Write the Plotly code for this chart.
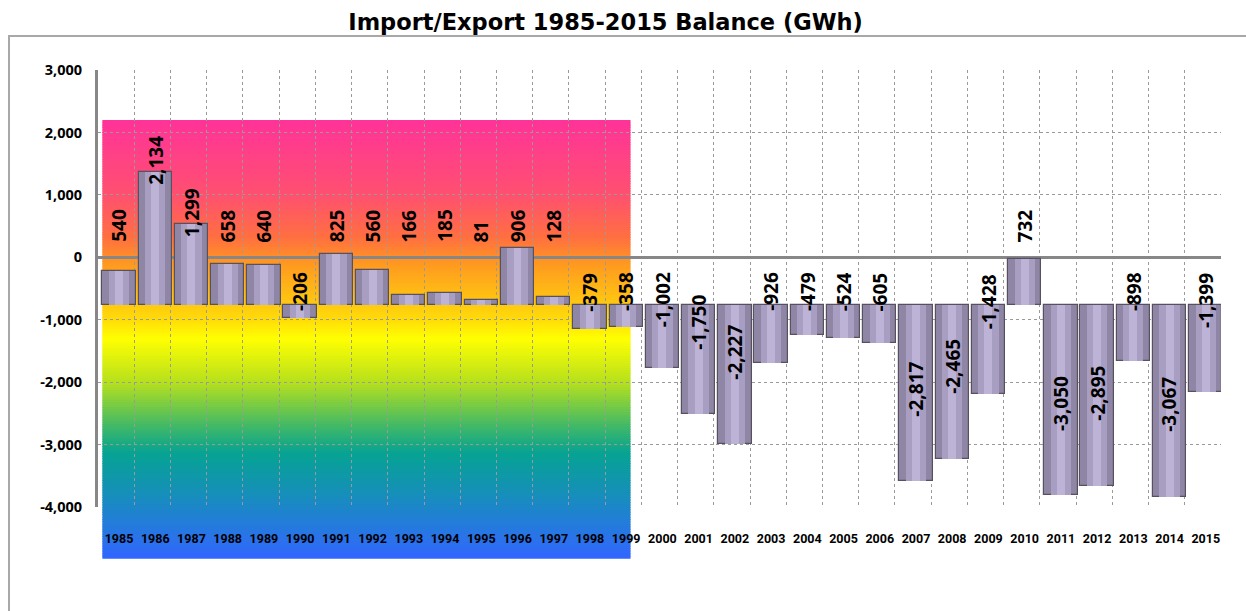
import plotly.graph_objects as go

# ---------------- data ----------------
years = list(range(1985, 2016))
year_labels = [str(y) for y in years]
balance = [540, 2134, 1299, 658, 640, -206, 825, 560, 166, 185, 81, 906, 128, -379, -358,
           -1002, -1750, -2227, -926, -479, -524, -605, -2817, -2465, -1428, 732,
           -3050, -2895, -898, -3067, -1399]
y_tick_vals = [-4000, -3000, -2000, -1000, 0, 1000, 2000, 3000]
y_tick_text = ["-4,000", "-3,000", "-2,000", "-1,000", "0", "1,000", "2,000", "3,000"]
title_text = "Import/Export 1985-2015 Balance (GWh)"

# ---------------- layout constants ----------------
W, H = 1246, 611
ML, MR, MT, MB = 98, 25, 70, 104
PW, PH = W - ML - MR, H - MT - MB
Y_MIN, Y_MAX = -4000, 3000
X_LO = 1984.42
X_HI = X_LO + len(years)
PX_PER_UNIT = PH / (Y_MAX - Y_MIN)
BASE_OFFSET = -765          # 3D-style depth offset of the bars

def px_x(p):   # pixel -> paper x
    return (p - ML) / PW

def px_y(p):   # pixel -> paper y
    return (H - MB - p) / PH

fig = go.Figure()

# bars (body + light centre stripe to mimic the bevel)
fig.add_trace(go.Bar(
    x=years, y=balance, base=BASE_OFFSET, width=0.92,
    marker=dict(color="#8f86a5", line=dict(color="#57505f", width=1.2)),
    hoverinfo="skip", showlegend=False))
fig.add_trace(go.Bar(
    x=years, y=balance, base=BASE_OFFSET, width=0.56,
    marker=dict(color="#a89ec2", line=dict(width=0)),
    hoverinfo="skip", showlegend=False))
fig.add_trace(go.Bar(
    x=years, y=balance, base=BASE_OFFSET, width=0.22,
    marker=dict(color="#bdb3d6", line=dict(width=0)),
    hoverinfo="skip", showlegend=False))
# invisible trace to activate the label axis
fig.add_trace(go.Scatter(x=years, y=balance, xaxis="x2", mode="markers",
                         marker=dict(opacity=0), hoverinfo="skip", showlegend=False))

# ---------------- gradient panel (1985-1999) ----------------
stops = [
    (0.00, (255, 51, 153)),
    (0.17, (255, 80, 112)),
    (0.27, (255, 112, 64)),
    (0.33, (255, 154, 32)),
    (0.45, (255, 216, 10)),
    (0.50, (255, 255, 0)),
    (0.60, (181, 224, 30)),
    (0.70, (64, 184, 104)),
    (0.76, (6, 163, 146)),
    (0.85, (21, 144, 184)),
    (1.00, (51, 102, 255)),
]

def interp(f):
    for (f0, c0), (f1, c1) in zip(stops[:-1], stops[1:]):
        if f0 <= f <= f1:
            t = (f - f0) / (f1 - f0) if f1 > f0 else 0
            return "rgb(%d,%d,%d)" % tuple(round(a + (b - a) * t) for a, b in zip(c0, c1))
    return "rgb(%d,%d,%d)" % stops[-1][1]

g_top = (2200 - Y_MIN) / (Y_MAX - Y_MIN)
g_bot = px_y(558)
g_x0 = (1984.54 - X_LO) / (X_HI - X_LO)
g_x1 = (1999.12 - X_LO) / (X_HI - X_LO)
N = 180
shapes = []
for i in range(N):
    f = (i + 0.5) / N
    y1 = g_top - (g_top - g_bot) * i / N
    y0 = g_top - (g_top - g_bot) * (i + 1) / N - 0.002
    shapes.append(dict(type="rect", xref="paper", yref="paper", x0=g_x0, x1=g_x1,
                       y0=y0, y1=y1, fillcolor=interp(f), line=dict(width=0),
                       layer="below"))
# outer chart frame
shapes.append(dict(type="rect", xref="paper", yref="paper",
                   x0=px_x(9), x1=px_x(W + 20), y0=px_y(H + 20), y1=px_y(36),
                   line=dict(color="#a8a8a8", width=2), fillcolor="rgba(0,0,0,0)",
                   layer="below"))

# ---------------- data labels ----------------
LABEL_SIZE = 19
CHAR_W = {",": 0.29, "-": 0.33}
annotations = []
for yr, v in zip(years, balance):
    txt = f"{v:,}"
    L = sum(CHAR_W.get(c, 0.572) for c in txt) * LABEL_SIZE + 2
    vpx = abs(v) * PX_PER_UNIT
    if v >= 0:
        if vpx - 10 - L >= 13:
            ya, anchor, shift = v, "top", -10
        else:
            ya, anchor, shift = 0, "bottom", 13
    else:
        if vpx - 15 - L >= 12:
            ya, anchor, shift = v, "bottom", 15
        else:
            ya, anchor, shift = 0, "top", -13
    annotations.append(dict(x=yr, y=ya, xref="x", yref="y", text=txt, showarrow=False,
                            textangle=-90, xanchor="center", yanchor=anchor, yshift=shift,
                            font=dict(family="Open Sans", size=LABEL_SIZE, color="black",
                                      weight="bold")))

fig.update_layout(
    width=W, height=H,
    margin=dict(l=ML, r=MR, t=MT, b=MB, pad=0),
    paper_bgcolor="white", plot_bgcolor="rgba(0,0,0,0)",
    barmode="overlay", bargap=0,
    showlegend=False,
    title=dict(text=title_text, x=0.486, xref="container", y=1 - 22 / H, yref="container",
               xanchor="center", yanchor="middle",
               font=dict(family="DejaVu Sans", size=22.5, color="black", weight="bold")),
    xaxis=dict(range=[X_LO, X_HI], tickmode="array",
               tickvals=[X_LO + k for k in range(len(years) + 1)],
               showticklabels=False, ticks="", showgrid=True, griddash="dot",
               gridcolor="#9a9a9a", gridwidth=1, zeroline=False, showline=False),
    xaxis2=dict(range=[X_LO, X_HI], overlaying="x", side="bottom", anchor="y",
                tickmode="array", tickvals=years, ticktext=year_labels,
                ticks="outside", ticklen=20, tickcolor="rgba(0,0,0,0)",
                showgrid=False, zeroline=False, showline=False,
                tickfont=dict(family="Liberation Sans Narrow, Roboto, sans-serif", size=12.5,
                              color="black", weight="bold")),
    yaxis=dict(range=[Y_MIN, Y_MAX], tickmode="array", tickvals=y_tick_vals,
               ticktext=y_tick_text, ticks="outside", ticklen=10,
               tickcolor="rgba(0,0,0,0)", showgrid=True, griddash="dot",
               gridcolor="#9a9a9a", gridwidth=1,
               zeroline=True, zerolinecolor="#878787", zerolinewidth=2.5,
               showline=True, linecolor="#878787", linewidth=3,
               tickfont=dict(family="Open Sans", size=14.5, color="black", weight="bold")),
    shapes=shapes,
    annotations=annotations,
)

fig.write_html("out.html", config={"displayModeBar": False},
               post_script="document.body.style.margin='0px';document.body.style.overflow='hidden';")
